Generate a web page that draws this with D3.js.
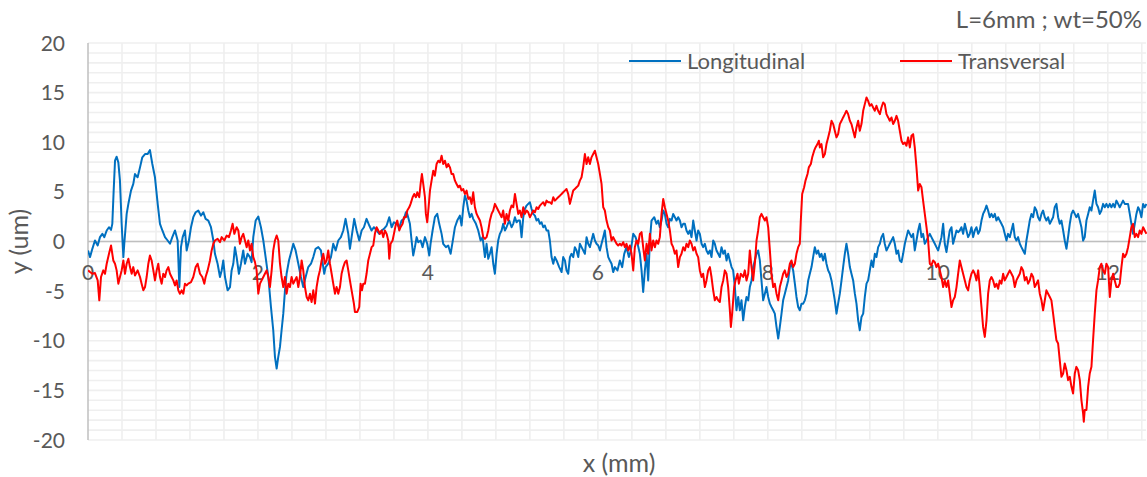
<!DOCTYPE html>
<html>
<head>
<meta charset="utf-8">
<script src="https://cdn.jsdelivr.net/npm/d3@7"></script>
<style>
  html, body { margin: 0; padding: 0; background: #ffffff; }
  svg text { font-family: Lato, "Open Sans", sans-serif; fill: #595959; }
</style>
</head>
<body>
<svg id="chart" width="1147" height="477"></svg>
<script>
// Surface profiles, x in mm, y in um
const longitudinal = [
[0,-0.9],[0.024,-1.57],[0.051,-0.74],[0.082,0.1],[0.114,-0.4],[0.141,0.44],[0.169,0.77],[0.192,0.44],[0.22,1.11],[0.247,1.44],[0.271,1.17],[0.286,1.78],[0.302,5.13],[0.318,8.14],[0.337,8.54],[0.357,7.97],[0.376,6.13],[0.396,1.78],[0.416,-1.57],[0.427,-0.23],[0.455,2.78],[0.475,3.79],[0.506,5.13],[0.533,5.8],[0.553,6.8],[0.584,6.47],[0.612,7.47],[0.639,8.48],[0.671,8.81],[0.702,8.81],[0.729,9.21],[0.757,7.81],[0.788,6.47],[0.82,3.79],[0.847,1.78],[0.875,1.11],[0.906,0.44],[0.937,0.1],[0.965,-0.23],[0.992,0.44],[1.024,1.11],[1.055,0.1],[1.075,-4.59],[1.094,-0.57],[1.114,0.44],[1.141,1.11],[1.161,-0.9],[1.188,0.1],[1.212,1.44],[1.239,2.45],[1.267,2.95],[1.298,3.12],[1.329,2.61],[1.357,2.95],[1.384,2.28],[1.416,2.11],[1.447,1.44],[1.475,0.1],[1.494,-1.24],[1.525,-2.24],[1.553,-3.58],[1.573,-2.91],[1.592,-1.91],[1.612,-3.58],[1.643,-4.92],[1.671,-4.59],[1.69,-2.91],[1.71,-2.24],[1.729,-0.57],[1.749,-1.57],[1.776,-3.25],[1.8,-2.24],[1.827,-0.9],[1.847,-2.24],[1.878,-1.24],[1.906,-1.57],[1.925,-2.08],[1.945,0.44],[1.973,2.11],[2.004,2.51],[2.035,1.44],[2.063,0.1],[2.09,-1.57],[2.122,-3.58],[2.153,-6.6],[2.18,-8.94],[2.2,-11.62],[2.22,-12.8],[2.239,-11.62],[2.259,-10.62],[2.278,-8.94],[2.298,-7.27],[2.318,-4.92],[2.337,-3.25],[2.365,-1.91],[2.396,-0.9],[2.416,-0.23],[2.443,-0.9],[2.475,-2.24],[2.506,-3.58],[2.533,-4.59],[2.561,-3.58],[2.592,-2.58],[2.624,-2.24],[2.651,-1.57],[2.678,-0.74],[2.71,-0.57],[2.741,-0.9],[2.757,-1.91],[2.78,-3.25],[2.796,-2.58],[2.827,-2.24],[2.859,-1.57],[2.886,-0.23],[2.914,-0.9],[2.945,0.1],[2.976,0.44],[3.004,1.11],[3.031,2.28],[3.063,0.77],[3.082,-0.74],[3.102,0.44],[3.133,2.28],
[3.161,1.11],[3.192,0.1],[3.22,1.11],[3.247,1.44],[3.278,2.28],[3.31,1.61],[3.337,1.11],[3.365,1.44],[3.396,1.11],[3.427,0.77],[3.455,1.11],[3.482,1.27],[3.514,1.61],[3.545,2.45],[3.573,1.44],[3.6,1.94],[3.631,1.78],[3.663,1.44],[3.69,2.11],[3.718,2.28],[3.741,2.95],[3.757,2.78],[3.788,1.78],[3.808,0.1],[3.827,-1.41],[3.847,-0.57],[3.867,0.44],[3.886,-0.07],[3.914,0.1],[3.937,-0.57],[3.965,0.44],[3.992,-0.23],[4.016,-1.41],[4.031,-0.23],[4.055,1.11],[4.082,2.45],[4.11,2.78],[4.133,1.78],[4.161,0.77],[4.18,-0.23],[4.212,-0.57],[4.239,-0.4],[4.267,-1.24],[4.29,-0.07],[4.318,1.44],[4.345,2.11],[4.376,2.61],[4.396,1.61],[4.416,3.45],[4.435,4.62],[4.455,4.12],[4.475,3.12],[4.494,2.45],[4.514,2.78],[4.533,2.28],[4.565,1.78],[4.592,1.11],[4.62,0.1],[4.643,0.44],[4.671,-1.57],[4.69,-0.23],[4.71,-1.74],[4.729,-1.24],[4.749,-0.57],[4.769,-2.24],[4.788,-3.25],[4.808,-1.24],[4.827,0.1],[4.847,0.77],[4.867,1.11],[4.886,1.78],[4.906,1.11],[4.925,1.44],[4.957,2.11],[4.984,1.44],[5.004,1.78],[5.024,2.45],[5.043,1.94],[5.063,2.11],[5.082,2.11],[5.102,0.44],[5.122,2.45],[5.141,3.28],[5.161,3.62],[5.18,3.79],[5.2,3.95],[5.22,3.28],[5.239,2.78],[5.259,2.61],[5.278,2.11],[5.298,2.28],[5.318,1.78],[5.337,1.94],[5.357,1.44],[5.376,1.61],[5.396,1.11],[5.416,1.11],[5.435,0.1],[5.455,-1.57],[5.475,-2.24],[5.494,-1.57],[5.514,-1.91],[5.545,-2.58],[5.573,-3.08],[5.592,-1.57],[5.612,-1.91],[5.631,-2.91],[5.651,-3.25],[5.671,-1.57],[5.69,-1.24],[5.71,-1.57],[5.729,-0.57],[5.749,-0.9],[5.769,-1.57],[5.788,-0.23],[5.808,-0.57],[5.827,-0.9],[5.847,-1.24],[5.867,0.44],[5.886,-0.23],[5.906,-0.57],[5.925,0.1],[5.945,0.77],[5.965,0.1],[5.984,-0.23],[6.004,-0.4],[6.024,-0.9],[6.043,-0.23],[6.063,0.44],[6.082,1.11],[6.102,-0.57],[6.122,-1.57],[6.141,-1.91],[6.161,-2.24],[6.18,-3.08],
[6.2,-2.58],[6.231,-2.91],[6.259,-1.91],[6.286,-2.58],[6.31,-1.24],[6.337,-0.57],[6.365,-1.57],[6.388,-0.9],[6.416,0.77],[6.443,0.44],[6.467,-0.23],[6.494,-1.24],[6.514,-2.91],[6.533,-5.09],[6.553,-2.91],[6.573,-1.24],[6.592,-3.92],[6.612,0.1],[6.631,2.11],[6.663,2.45],[6.69,1.78],[6.71,2.11],[6.729,1.44],[6.749,2.11],[6.769,3.12],[6.788,2.78],[6.808,1.78],[6.827,1.44],[6.847,2.28],[6.867,2.11],[6.886,2.78],[6.906,2.45],[6.925,2.11],[6.945,2.45],[6.965,2.11],[6.984,1.44],[7.004,1.78],[7.024,1.78],[7.043,1.11],[7.063,0.77],[7.082,1.11],[7.102,0.44],[7.122,2.11],[7.141,1.11],[7.161,0.1],[7.18,1.11],[7.2,0.77],[7.22,-0.23],[7.239,-0.57],[7.259,-0.23],[7.278,-0.9],[7.298,-1.24],[7.318,-0.9],[7.337,-1.57],[7.357,0.1],[7.376,-0.23],[7.396,-0.9],[7.416,-1.24],[7.435,-1.57],[7.455,-0.57],[7.475,-1.24],[7.494,-0.9],[7.514,-1.91],[7.533,-1.24],[7.553,-1.91],[7.573,-2.58],[7.592,-2.91],[7.612,-4.59],[7.631,-6.93],[7.651,-5.59],[7.671,-6.93],[7.69,-5.93],[7.71,-7.94],[7.729,-6.6],[7.749,-5.59],[7.769,-5.93],[7.788,-4.59],[7.808,-3.92],[7.827,-2.58],[7.847,-1.91],[7.867,-1.24],[7.886,-0.9],[7.906,-1.91],[7.925,-3.92],[7.945,-5.93],[7.965,-5.26],[7.984,-4.59],[8.004,-5.59],[8.024,-6.26],[8.043,-6.6],[8.063,-6.93],[8.082,-7.27],[8.102,-8.61],[8.122,-9.78],[8.141,-8.61],[8.161,-7.27],[8.18,-5.93],[8.2,-5.26],[8.22,-4.59],[8.239,-3.92],[8.259,-2.58],[8.278,-2.24],[8.298,-2.91],[8.318,-4.25],[8.337,-5.59],[8.357,-6.6],[8.376,-6.93],[8.396,-6.26],[8.416,-6.26],[8.435,-5.93],[8.455,-5.26],[8.475,-3.92],[8.494,-3.25],[8.514,-2.58],[8.533,-1.57],[8.553,-0.57],[8.573,-1.24],[8.592,-0.9],[8.612,-1.57],[8.631,-1.24],[8.651,-1.91],[8.671,-1.24],[8.69,-2.24],[8.71,-2.91],[8.729,-3.25],[8.749,-3.92],[8.769,-4.92],[8.788,-5.93],[8.808,-7.27],[8.827,-6.26],[8.847,-5.26],[8.867,-3.92],[8.886,-2.58],[8.906,-1.24],[8.925,-0.23],[8.945,-1.24],[8.965,-2.58],[8.984,-3.25],[9.004,-3.92],[9.024,-5.26],[9.043,-6.26],[9.063,-7.94],[9.082,-8.94],[9.102,-7.6],[9.122,-7.27],[9.141,-5.59],[9.161,-4.25],[9.18,-3.92],[9.2,-2.91],[9.22,-1.91],[9.239,-2.58],[9.259,-1.24],[9.278,-1.57],[9.298,-0.57],[9.318,-0.23],[9.337,0.44],[9.357,0.77],
[9.376,-0.23],[9.396,-0.9],[9.416,-0.57],[9.435,-0.23],[9.455,0.1],[9.475,0.44],[9.494,-0.23],[9.514,-1.24],[9.533,-0.9],[9.553,-1.91],[9.573,-2.08],[9.592,-1.24],[9.612,-0.23],[9.631,0.44],[9.651,1.11],[9.671,0.77],[9.69,0.44],[9.71,0.77],[9.729,-0.9],[9.749,0.1],[9.769,1.11],[9.788,1.78],[9.808,0.44],[9.827,0.77],[9.847,-0.23],[9.867,0.1],[9.886,0.44],[9.906,0.77],[9.925,0.44],[9.945,0.1],[9.965,-0.23],[9.984,-0.57],[10.004,-0.9],[10.024,-0.23],[10.043,0.44],[10.063,1.78],[10.082,-0.23],[10.102,-1.07],[10.122,0.1],[10.141,1.11],[10.161,1.44],[10.18,-0.23],[10.2,0.44],[10.22,1.11],[10.239,0.94],[10.259,1.11],[10.278,1.44],[10.298,0.77],[10.318,1.78],[10.337,1.11],[10.357,0.44],[10.376,0.77],[10.396,1.44],[10.416,0.44],[10.435,1.11],[10.455,1.44],[10.475,0.77],[10.494,1.11],[10.514,2.11],[10.533,2.78],[10.553,3.12],[10.573,3.62],[10.592,3.12],[10.612,2.45],[10.631,2.78],[10.651,2.45],[10.671,2.78],[10.69,2.11],[10.71,2.45],[10.729,2.11],[10.749,1.78],[10.769,1.44],[10.788,0.77],[10.808,0.1],[10.827,0.77],[10.847,0.44],[10.867,1.11],[10.886,1.78],[10.906,0.44],[10.925,0.1],[10.945,0.44],[10.965,-0.23],[10.984,-0.57],[11.004,-0.9],[11.024,-1.24],[11.043,0.1],[11.063,1.11],[11.082,2.11],[11.102,2.78],[11.122,2.45],[11.141,3.45],[11.161,3.12],[11.18,2.45],[11.2,2.11],[11.22,2.78],[11.239,3.12],[11.259,2.45],[11.278,2.11],[11.298,2.45],[11.318,1.78],[11.337,2.11],[11.357,2.45],[11.376,3.45],[11.396,3.79],[11.416,2.45],[11.435,1.78],[11.455,2.11],[11.475,1.11],[11.494,0.1],[11.514,-0.74],[11.533,0.44],[11.553,1.78],[11.573,2.78],[11.592,3.12],[11.612,2.78],[11.631,2.45],[11.651,2.78],[11.671,2.11],[11.69,1.44],[11.71,0.1],[11.729,0.44],[11.749,2.11],[11.769,2.78],[11.788,3.45],[11.808,3.12],[11.827,4.12],[11.847,5.13],[11.867,3.79],[11.886,3.45],[11.906,2.78],[11.925,3.12],[11.945,3.79],[11.965,3.45],[11.984,3.79],[12.004,3.45],[12.024,3.79],[12.043,3.45],[12.063,3.79],[12.082,3.45],[12.102,4.12],[12.122,3.79],[12.141,3.45],[12.161,3.79],[12.18,4.12],[12.2,3.79],[12.22,3.79],[12.239,3.79],[12.259,2.78],[12.278,1.78],[12.298,0.77],[12.318,1.78],[12.337,2.78],[12.357,3.45],[12.376,3.12],[12.396,2.45],[12.416,3.79],[12.435,3.45],[12.455,3.79]
];

const transversal = [
[0,-2.91],[0.024,-3.08],[0.051,-3.25],[0.082,-3.18],[0.114,-3.92],[0.133,-5.93],[0.153,-3.58],[0.18,-2.91],[0.2,-3.25],[0.22,-2.24],[0.247,-1.24],[0.271,-0.4],[0.298,-1.91],[0.318,-2.24],[0.337,-2.91],[0.357,-4.25],[0.376,-3.58],[0.396,-2.91],[0.416,-1.91],[0.435,-3.25],[0.455,-2.24],[0.475,-1.74],[0.494,-2.58],[0.514,-3.25],[0.533,-2.58],[0.553,-3.42],[0.584,-2.91],[0.612,-3.58],[0.631,-4.25],[0.651,-4.92],[0.671,-4.59],[0.69,-3.58],[0.71,-2.24],[0.729,-1.41],[0.749,-1.91],[0.769,-2.91],[0.788,-3.92],[0.808,-2.91],[0.827,-2.24],[0.847,-3.58],[0.867,-4.25],[0.886,-3.25],[0.906,-3.58],[0.925,-2.91],[0.945,-2.58],[0.965,-3.25],[0.984,-3.58],[1.004,-3.92],[1.024,-4.42],[1.043,-3.92],[1.063,-4.92],[1.082,-5.26],[1.102,-4.92],[1.122,-5.26],[1.141,-4.25],[1.161,-4.42],[1.18,-4.25],[1.212,-4.09],[1.239,-3.58],[1.267,-2.58],[1.29,-2.24],[1.318,-3.25],[1.345,-3.58],[1.369,-4.25],[1.384,-3.58],[1.408,-2.91],[1.435,-1.91],[1.455,-0.9],[1.475,-0.23],[1.494,0.1],[1.525,0.27],[1.553,-0.07],[1.573,0.44],[1.604,0.1],[1.631,0.6],[1.659,0.44],[1.682,1.11],[1.702,1.78],[1.722,0.77],[1.749,1.44],[1.769,1.11],[1.788,-0.23],[1.808,0.44],[1.827,0.77],[1.847,0.1],[1.867,-0.57],[1.886,0.1],[1.906,-0.9],[1.925,-0.23],[1.945,-1.57],[1.965,-2.08],[1.984,-2.91],[2.004,-5.26],[2.024,-4.25],[2.043,-3.92],[2.063,-3.58],[2.082,-3.25],[2.102,-2.91],[2.122,-3.58],[2.141,-4.59],[2.161,-2.91],[2.18,-0.9],[2.2,0.1],[2.22,0.6],[2.239,0.1],[2.259,-2.24],[2.278,-3.58],[2.298,-4.59],[2.318,-3.58],[2.337,-5.26],[2.357,-4.25],[2.376,-4.59],[2.396,-3.58],[2.416,-4.25],[2.435,-3.92],[2.455,-3.58],[2.475,-4.59],[2.494,-3.58],[2.514,-1.91],[2.533,-2.91],[2.553,-4.59],[2.573,-5.59],[2.592,-5.93],[2.612,-5.26],[2.631,-6.1],[2.651,-4.92],[2.671,-6.26],[2.69,-4.59],[2.71,-3.58],[2.729,-2.91],[2.749,-1.91],[2.769,-1.24],[2.788,-2.24],[2.808,-1.91],[2.827,-0.9],[2.847,-2.24],[2.867,-3.25],[2.886,-4.25],[2.906,-5.26],[2.925,-4.59],[2.945,-5.26],[2.965,-4.59],[2.984,-3.25],[3.004,-2.58],[3.024,-2.08],[3.043,-1.91],[3.063,-2.91],[3.082,-3.92],[3.102,-4.92],[3.129,-6.26],
[3.141,-7.1],[3.169,-7.1],[3.192,-6.6],[3.208,-4.25],[3.224,-4.92],[3.239,-4.25],[3.259,-4.25],[3.278,-3.25],[3.298,-1.91],[3.318,-1.24],[3.337,-0.57],[3.357,-0.4],[3.376,0.77],[3.396,1.44],[3.416,1.11],[3.435,0.77],[3.455,1.11],[3.475,0.44],[3.494,1.11],[3.514,0.77],[3.533,0.1],[3.545,-1.74],[3.561,-0.23],[3.584,0.1],[3.6,0.77],[3.624,1.78],[3.639,2.11],[3.663,1.11],[3.678,1.44],[3.702,1.78],[3.718,2.45],[3.741,2.45],[3.757,3.12],[3.78,3.45],[3.796,3.79],[3.82,4.46],[3.839,4.79],[3.859,4.46],[3.875,4.96],[3.898,4.46],[3.914,5.8],[3.929,6.8],[3.945,5.8],[3.965,4.46],[3.976,2.78],[3.992,1.94],[4.008,3.45],[4.024,5.13],[4.043,6.13],[4.063,7.14],[4.082,6.63],[4.102,7.81],[4.122,8.14],[4.141,7.97],[4.161,8.64],[4.18,7.81],[4.2,8.14],[4.22,7.47],[4.239,7.81],[4.259,7.47],[4.278,6.8],[4.298,6.8],[4.318,6.13],[4.337,5.8],[4.357,5.46],[4.376,5.63],[4.396,5.13],[4.416,5.29],[4.435,4.79],[4.455,5.13],[4.475,4.29],[4.494,4.46],[4.514,3.79],[4.533,4.96],[4.553,3.45],[4.573,2.78],[4.592,2.45],[4.612,2.11],[4.631,1.44],[4.651,0.44],[4.671,0.27],[4.69,0.44],[4.71,1.11],[4.729,2.11],[4.749,2.78],[4.769,3.12],[4.788,3.79],[4.808,3.45],[4.827,3.12],[4.847,2.78],[4.867,2.45],[4.886,3.12],[4.906,1.78],[4.925,2.78],[4.945,2.11],[4.965,3.12],[4.984,3.62],[5.004,3.45],[5.024,4.79],[5.043,3.79],[5.063,2.78],[5.082,3.12],[5.102,2.45],[5.122,3.45],[5.141,2.78],[5.161,3.12],[5.18,2.95],[5.2,2.45],[5.22,2.78],[5.239,3.12],[5.259,2.95],[5.278,3.45],[5.298,3.28],[5.318,3.62],[5.337,3.79],[5.357,3.95],[5.376,3.62],[5.396,4.12],[5.416,3.95],[5.435,3.95],[5.455,3.79],[5.475,4.46],[5.494,4.12],[5.514,4.29],[5.533,4.46],[5.553,4.62],[5.573,4.79],[5.592,4.96],[5.612,5.13],[5.631,5.29],[5.651,4.79],[5.671,3.79],[5.69,4.46],[5.71,5.13],[5.729,5.29],[5.749,5.46],[5.769,5.63],[5.788,6.13],[5.808,6.47],[5.827,7.47],[5.847,8.81],[5.867,7.81],[5.886,8.48],[5.906,7.81],[5.925,8.48],[5.945,8.81],[5.965,9.15],[5.984,8.48],[6.004,7.81],[6.024,6.8],[6.043,5.8],[6.063,3.45],[6.082,3.12],[6.102,2.11],[6.122,1.44],[6.141,1.11],[6.161,0.1],[6.18,0.44],
[6.2,0.1],[6.22,-0.23],[6.239,-0.4],[6.259,-0.23],[6.278,-0.4],[6.298,-0.07],[6.318,-0.57],[6.337,-0.23],[6.357,-0.9],[6.376,-0.4],[6.396,-1.24],[6.416,-2.91],[6.435,-0.57],[6.455,0.1],[6.475,-0.23],[6.494,0.77],[6.514,0.94],[6.533,-0.57],[6.553,-1.91],[6.573,-0.23],[6.592,-1.24],[6.612,0.77],[6.631,-0.9],[6.651,0.1],[6.671,-0.57],[6.69,0.1],[6.71,-0.23],[6.729,0.44],[6.749,2.78],[6.769,4.29],[6.788,3.45],[6.808,2.78],[6.827,2.11],[6.847,1.11],[6.867,-0.23],[6.886,-0.57],[6.906,-1.24],[6.925,-0.9],[6.945,-2.58],[6.965,-1.57],[6.984,-1.24],[7.004,-0.57],[7.024,-0.9],[7.043,-0.23],[7.063,-0.57],[7.082,0.1],[7.102,-0.23],[7.122,-0.9],[7.141,-0.57],[7.161,-1.24],[7.18,-1.57],[7.2,-2.91],[7.22,-3.58],[7.239,-3.25],[7.259,-4.59],[7.278,-3.92],[7.298,-2.91],[7.318,-2.58],[7.337,-3.58],[7.357,-4.92],[7.376,-5.93],[7.396,-5.59],[7.416,-5.93],[7.435,-6.1],[7.455,-4.59],[7.475,-3.92],[7.494,-2.91],[7.514,-3.25],[7.533,-4.59],[7.553,-6.93],[7.565,-8.61],[7.58,-7.27],[7.604,-4.59],[7.62,-3.92],[7.643,-3.25],[7.659,-4.25],[7.682,-3.25],[7.71,-3.58],[7.729,-2.91],[7.749,-3.92],[7.769,-3.25],[7.788,-0.9],[7.808,-2.58],[7.827,-3.92],[7.847,-2.24],[7.867,0.1],[7.886,1.11],[7.906,2.45],[7.925,2.78],[7.945,2.45],[7.965,2.11],[7.984,2.45],[8.004,1.44],[8.024,-0.9],[8.043,-3.25],[8.063,-4.59],[8.082,-4.25],[8.102,-5.26],[8.122,-5.93],[8.141,-4.59],[8.161,-3.92],[8.18,-3.25],[8.2,-2.91],[8.22,-3.58],[8.239,-3.25],[8.259,-2.24],[8.278,-1.91],[8.298,-2.58],[8.318,-2.24],[8.337,-1.24],[8.357,-0.57],[8.376,-0.23],[8.388,2.11],[8.404,4.79],[8.427,5.46],[8.443,6.13],[8.467,6.8],[8.482,7.47],[8.506,7.81],[8.522,8.48],[8.545,9.15],[8.561,9.48],[8.584,9.82],[8.6,10.15],[8.612,9.48],[8.631,9.82],[8.651,8.48],[8.671,8.81],[8.69,9.82],[8.71,10.49],[8.729,11.16],[8.749,12.16],[8.769,11.83],[8.788,11.16],[8.808,10.49],[8.827,10.82],[8.847,11.83],[8.867,12.16],[8.886,12.5],[8.906,12.83],[8.925,13.17],[8.945,12.83],[8.965,12.16],[8.984,11.83],[9.004,11.16],[9.024,10.49],[9.043,11.49],[9.063,12.16],[9.082,11.16],[9.102,11.83],[9.122,13.17],[9.141,13.84],[9.161,14.51],[9.18,14.17],[9.2,13.67],[9.22,13.84],[9.239,13.5],[9.259,13.17],[9.278,13.67],[9.298,13.17],[9.318,12.83],[9.337,13.5],[9.357,14.0],
[9.376,13.84],[9.396,12.83],[9.416,12.5],[9.435,12.16],[9.455,12.5],[9.475,11.83],[9.494,12.16],[9.514,12.66],[9.533,12.16],[9.553,11.16],[9.573,10.15],[9.592,9.82],[9.612,9.98],[9.631,9.65],[9.651,10.49],[9.671,9.48],[9.69,10.65],[9.71,10.82],[9.729,9.48],[9.749,7.47],[9.769,5.13],[9.788,5.8],[9.808,5.46],[9.827,4.12],[9.847,2.78],[9.867,1.44],[9.886,0.1],[9.906,-2.24],[9.925,-2.41],[9.945,-1.91],[9.965,-2.08],[9.984,-2.58],[10.004,-2.24],[10.024,-2.91],[10.043,-3.58],[10.063,-4.59],[10.082,-3.92],[10.102,-4.59],[10.122,-3.92],[10.141,-5.26],[10.161,-6.6],[10.18,-5.93],[10.2,-5.59],[10.22,-4.59],[10.239,-3.25],[10.259,-1.91],[10.278,-2.58],[10.298,-3.25],[10.318,-3.92],[10.337,-4.59],[10.357,-4.92],[10.376,-3.92],[10.396,-3.25],[10.416,-2.91],[10.435,-3.25],[10.455,-3.92],[10.475,-2.91],[10.494,-4.59],[10.514,-6.6],[10.533,-8.61],[10.553,-9.61],[10.573,-7.94],[10.592,-5.26],[10.612,-3.92],[10.631,-3.58],[10.651,-3.92],[10.671,-4.59],[10.69,-4.25],[10.71,-4.76],[10.729,-3.92],[10.749,-4.25],[10.769,-3.25],[10.788,-3.92],[10.808,-3.58],[10.827,-3.25],[10.847,-2.91],[10.867,-3.25],[10.886,-3.58],[10.906,-4.59],[10.925,-3.92],[10.945,-3.58],[10.965,-3.25],[10.984,-2.58],[11.004,-2.91],[11.024,-3.92],[11.043,-3.58],[11.063,-4.25],[11.082,-3.92],[11.102,-3.25],[11.122,-3.58],[11.141,-4.59],[11.161,-4.25],[11.18,-3.92],[11.2,-5.26],[11.22,-5.93],[11.239,-6.93],[11.259,-5.93],[11.278,-4.92],[11.298,-5.26],[11.318,-5.59],[11.337,-5.93],[11.357,-7.27],[11.376,-8.61],[11.396,-9.95],[11.416,-10.28],[11.435,-11.96],[11.455,-13.63],[11.475,-13.3],[11.494,-12.29],[11.514,-12.96],[11.533,-13.97],[11.553,-13.63],[11.573,-14.64],[11.592,-15.31],[11.612,-13.3],[11.631,-12.63],[11.651,-12.96],[11.671,-13.97],[11.69,-15.98],[11.71,-17.32],[11.718,-18.16],[11.729,-16.98],[11.749,-16.98],[11.769,-14.64],[11.788,-13.3],[11.808,-12.63],[11.827,-9.95],[11.847,-7.27],[11.867,-4.92],[11.886,-3.92],[11.906,-2.58],[11.925,-2.24],[11.945,-2.91],[11.965,-3.25],[11.984,-2.24],[12.004,-2.58],[12.024,-5.59],[12.043,-3.92],[12.063,-3.25],[12.082,-3.92],[12.102,-4.59],[12.122,-4.59],[12.141,-4.25],[12.161,-2.58],[12.18,-1.24],[12.2,-1.57],[12.22,-1.24],[12.239,-0.57],[12.259,0.44],[12.278,1.44],[12.298,1.78],[12.318,0.44],[12.337,0.77],[12.357,0.44],[12.376,1.11],[12.396,0.77],[12.416,1.44],[12.435,1.11],[12.455,0.77]
];

const seriesNames = ["Longitudinal", "Transversal"];
const seriesColors = ["#0070C0", "#FF0000"];
const xTicks = [0, 2, 4, 6, 8, 10, 12];
const yTicks = [-20, -15, -10, -5, 0, 5, 10, 15, 20];
const chartTitle = "L=6mm ; wt=50%";
const xTitle = "x (mm)";
const yTitle = "y (um)";

const svg = d3.select("#chart");
const W = 1147, H = 477;
const plot = { left: 88, right: 1146, top: 43, bottom: 440 };

const x = d3.scaleLinear().domain([0, 12.45]).range([plot.left, plot.right]);
const y = d3.scaleLinear().domain([-20, 20]).range([plot.bottom, plot.top]);

svg.append("rect").attr("width", W).attr("height", H).attr("fill", "#ffffff");

// Gridlines: horizontal every 1 um, vertical every 0.4 mm
const grid = svg.append("g").attr("stroke", "#EFEFEF").attr("stroke-width", 1.6);
grid.selectAll("line.h").data(d3.range(-20, 21, 1)).join("line")
  .attr("x1", plot.left).attr("x2", plot.right)
  .attr("y1", d => y(d)).attr("y2", d => y(d));
grid.selectAll("line.v").data(d3.range(1, 32).map(i => +(i * 0.4).toFixed(1))).join("line")
  .attr("x1", d => x(d)).attr("x2", d => x(d))
  .attr("y1", plot.top).attr("y2", plot.bottom);

// Vertical axis line and horizontal axis at y = 0
svg.append("line").attr("x1", plot.left).attr("x2", plot.left)
  .attr("y1", plot.top).attr("y2", plot.bottom)
  .attr("stroke", "#BFBFBF").attr("stroke-width", 1.5);
svg.append("line").attr("x1", plot.left).attr("x2", plot.right)
  .attr("y1", y(0)).attr("y2", y(0))
  .attr("stroke", "#BFBFBF").attr("stroke-width", 1.5);

// Y tick labels
svg.append("g").selectAll("text").data(yTicks).join("text")
  .attr("x", 65).attr("y", d => y(d) + 7.5)
  .attr("text-anchor", "end").attr("font-size", 21)
  .text(d => d);

// X tick labels, sitting below the zero line
svg.append("g").selectAll("text").data(xTicks).join("text")
  .attr("x", d => x(d)).attr("y", y(0) + 38.5)
  .attr("text-anchor", "middle").attr("font-size", 21)
  .text(d => d);

// Series
svg.append("clipPath").attr("id", "plotClip").append("rect")
  .attr("x", plot.left).attr("y", plot.top - 2)
  .attr("width", plot.right - plot.left + 1).attr("height", plot.bottom - plot.top + 4);

const line = d3.line().x(d => x(d[0])).y(d => y(d[1]));
const lines = svg.append("g").attr("clip-path", "url(#plotClip)");
[longitudinal, transversal].forEach((data, i) => {
  lines.append("path").datum(data)
    .attr("fill", "none")
    .attr("stroke", seriesColors[i])
    .attr("stroke-width", 2)
    .attr("stroke-linejoin", "round")
    .attr("d", line);
});

// Legend
const legendItems = [{ x: 629 }, { x: 900 }];
legendItems.forEach((it, i) => {
  svg.append("line").attr("x1", it.x).attr("x2", it.x + 52)
    .attr("y1", 61).attr("y2", 61)
    .attr("stroke", seriesColors[i]).attr("stroke-width", 2);
  svg.append("text").attr("x", it.x + 58).attr("y", 68.5)
    .attr("font-size", 22).text(seriesNames[i]);
});

// Title and axis titles
svg.append("text").attr("x", 1142).attr("y", 28)
  .attr("text-anchor", "end").attr("font-size", 24).text(chartTitle);
svg.append("text").attr("x", 619).attr("y", 472)
  .attr("text-anchor", "middle").attr("font-size", 25).text(xTitle);
svg.append("text")
  .attr("transform", `translate(28, ${y(0)}) rotate(-90)`)
  .attr("text-anchor", "middle").attr("font-size", 25).text(yTitle);
</script>
</body>
</html>
